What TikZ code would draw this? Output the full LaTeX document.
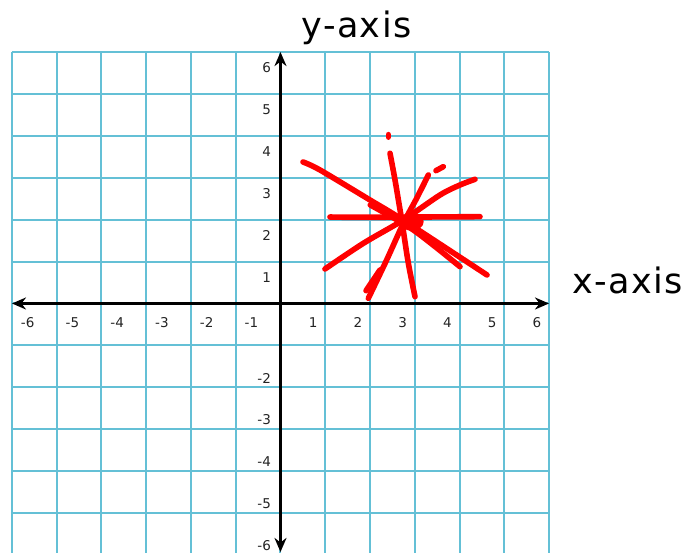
\documentclass[tikz,border=0pt]{standalone}
\usepackage{fontspec}
\setmainfont{DejaVu Sans}
\newfontfamily\axisfont[LetterSpace=4]{DejaVu Sans}
\usetikzlibrary{arrows.meta}
\definecolor{gridblue}{RGB}{100,192,214}
\definecolor{ink}{RGB}{35,35,35}

\begin{document}
\begin{tikzpicture}[x=44.75pt,y=41.9pt,
  gridline/.style={gridblue,line width=2pt},
  axisline/.style={line width=2.8pt,{Stealth[length=14pt,width=12pt]}-{Stealth[length=14pt,width=12pt]}},
  ticklbl/.style={font=\fontsize{13.5}{15}\selectfont,text=ink,inner sep=0pt},
  axistitle/.style={font=\axisfont\fontsize{35}{40}\selectfont,anchor=base,inner sep=0pt},
  scrawl/.style={red,line width=5.6pt,line cap=round,line join=round}]
\useasboundingbox (-6.268,-5.955) rectangle (9.106,7.243);
\foreach \k in {-6,...,6} \draw[gridline] (\k,6) -- (\k,-5.955);
\foreach \k in {-5,...,6} \draw[gridline] (-6,\k) -- (6,\k);
\draw[axisline] (-6,0) -- (6,0);
\draw[axisline] (0,-5.93) -- (0,6);
\foreach \k in {1,...,6} \node[ticklbl] (xp\k) at (\k-0.27,-0.465) {\k};
\foreach \k in {1,...,6} \node[ticklbl] (xn\k) at (-\k+0.35,-0.465) {-\k};
\foreach \k in {1,...,6} \node[ticklbl,anchor=east] (yp\k) at (-0.21,\k-0.38) {\k};
\foreach \k in {2,...,6} \node[ticklbl,anchor=east] (yn\k) at (-0.21,-\k+0.22) {-\k};
\node[axistitle] (ytitle) at (1.698,6.344) {y-axis};
\node[axistitle] (xtitle) at (7.754,0.243) {x-axis};
\draw[scrawl] plot[smooth] coordinates {(0.503,3.377) (0.883,3.186) (2.0,2.47) (2.737,1.993) (4.615,0.68)};
\draw[scrawl] plot[smooth] coordinates {(2.006,2.351) (2.968,1.754) (4.011,0.878)};
\draw[scrawl] plot[smooth] coordinates {(1.106,2.064) (1.851,2.057) (4.458,2.072)};
\draw[scrawl] plot[smooth] coordinates {(0.994,0.823) (1.851,1.436) (2.745,1.993) (3.564,2.589) (4.011,2.828) (4.346,2.964)};
\draw[scrawl] plot[smooth] coordinates {(2.447,3.585) (2.559,2.947) (2.708,1.993) (2.857,0.959) (3.006,0.162)};
\draw[scrawl] plot[smooth] coordinates {(1.963,0.124) (2.372,1.038) (2.745,1.914) (3.043,2.511) (3.304,3.067)};
\draw[scrawl] (1.911,0.306) -- (2.223,0.8);
\draw[scrawl] (3.475,3.170) -- (3.638,3.265);
\draw[scrawl] (2.409,4.03) -- (2.409,3.97);
\fill[red] (2.932,1.952) ellipse[x radius=12pt,y radius=9pt];
\end{tikzpicture}
\end{document}
